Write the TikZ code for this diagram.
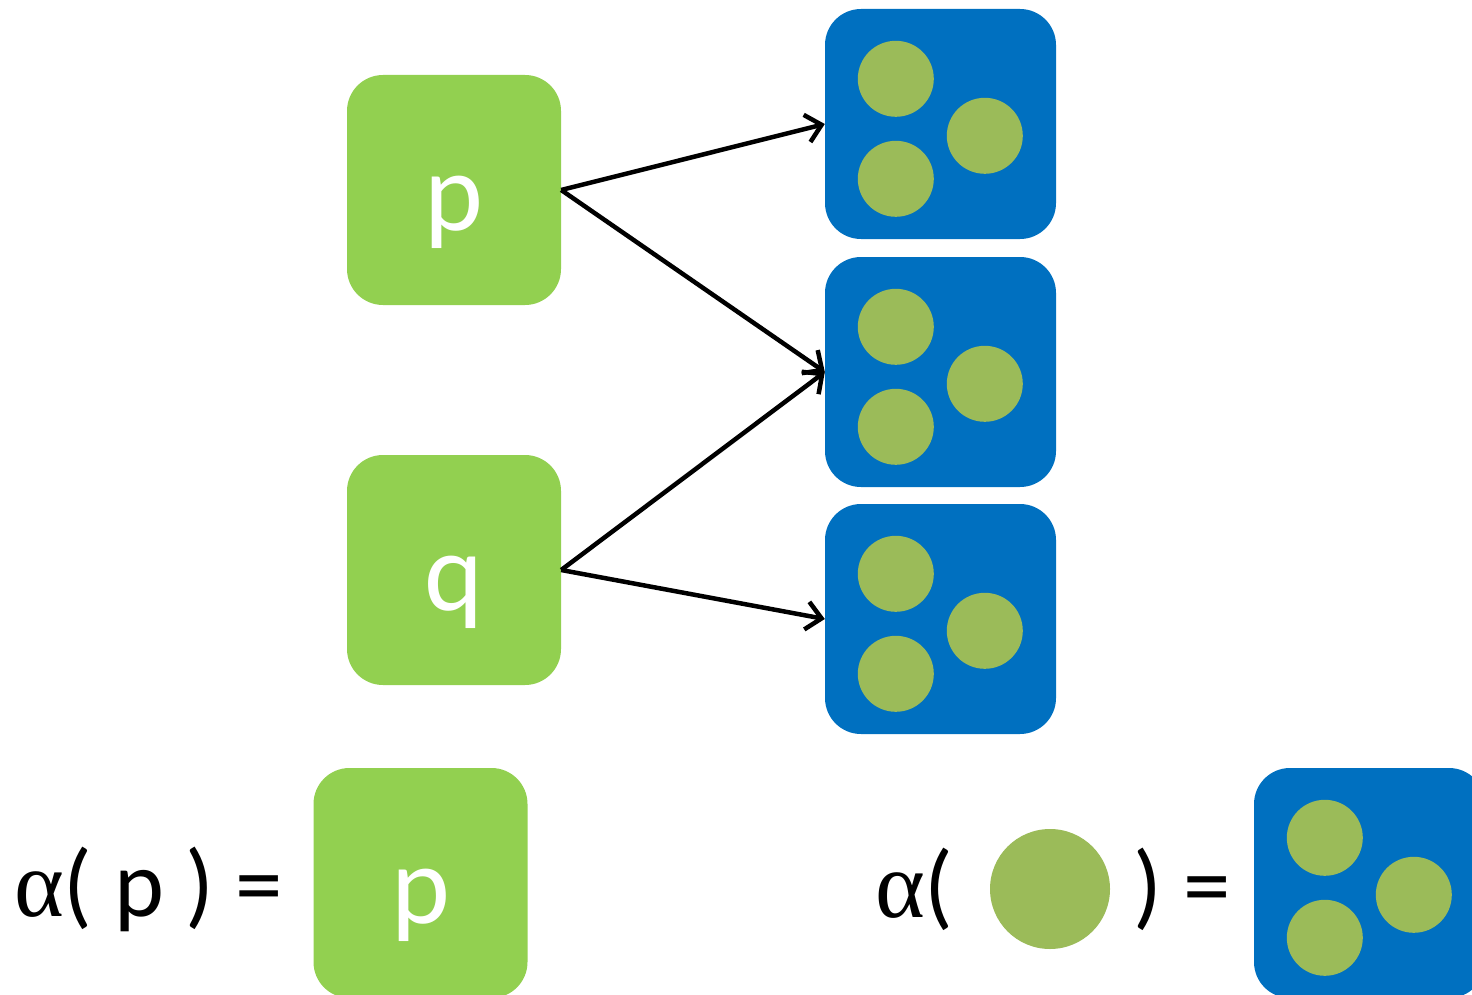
\documentclass[tikz,border=0pt]{standalone}
\usepackage{fontspec}
\setmainfont{Carlito}
\newfontfamily\greekfont{Liberation Serif}
\usetikzlibrary{arrows.meta}
\definecolor{leaf}{HTML}{92D050}
\definecolor{ocean}{HTML}{0070C0}
\definecolor{olive}{HTML}{9BBB59}
\tikzset{
  greenbox/.style={fill=leaf, rounded corners=36pt, minimum width=214pt, minimum height=230pt, inner sep=0pt},
  letter/.style={inner sep=0pt, text=white, font=\fontsize{112}{120}\selectfont},
  bluebox/.style={fill=ocean, rounded corners=36pt, minimum width=231pt, minimum height=230pt, inner sep=0pt},
  dot/.style={circle, fill=olive, minimum size=76pt, inner sep=0pt},
  bigdot/.style={circle, fill=olive, minimum size=120pt, inner sep=0pt},
  link/.style={line width=4.5pt, -{Straight Barb[length=15pt, width=28pt, line width=4.5pt]}},
  eqtext/.style={inner sep=0pt, font=\fontsize{95}{110}\selectfont}
}
\newcommand{\alphaglyph}{{\greekfont α}}
\begin{document}
\begin{tikzpicture}[x=1pt, y=-1pt]
\useasboundingbox (0,0) rectangle (1472,995);
\clip (0,0) rectangle (1472,995);

% source boxes with their letters
\node[greenbox] (p) at (454,190) {};
\node[letter] (p-label) at ([yshift=-22pt]p.center) {p};
\node[greenbox] (q) at (454,570) {};
\node[letter] (q-label) at ([yshift=-22pt]q.center) {q};

% target boxes, each holding three dots
\node[bluebox] (b1) at (940.5,124) {};
\node[bluebox] (b2) at (940.5,372) {};
\node[bluebox] (b3) at (940.5,619) {};
\node[bluebox] (b4) at (1369.5,883) {};
\foreach \b in {b1,b2,b3,b4} {
  \node[dot] (\b-a) at ([shift={(71pt,-70pt)}]\b.north west) {};
  \node[dot] (\b-b) at ([shift={(160pt,-127pt)}]\b.north west) {};
  \node[dot] (\b-c) at ([shift={(71pt,-170pt)}]\b.north west) {};
}

% mapping arrows
\draw[link] (p.east) -- (b1.west);
\draw[link] (p.east) -- (b2.west);
\draw[link] (q.east) -- (b2.west);
\draw[link] (q.east) -- (b3.west);

% abstraction of p
\node[eqtext, anchor=west] (lhs) at (14,889) {\alphaglyph( p ) =};
\node[greenbox] (pa) at (420.5,883) {};
\node[letter] (pa-label) at ([yshift=-22pt]pa.center) {p};

% abstraction of a dot
\node[eqtext, anchor=west] (open) at (875,889) {\alphaglyph(};
\node[bigdot] (single) at (1050,889) {};
\node[eqtext, anchor=west] (close) at (1133,889) {) =};
\end{tikzpicture}
\end{document}
